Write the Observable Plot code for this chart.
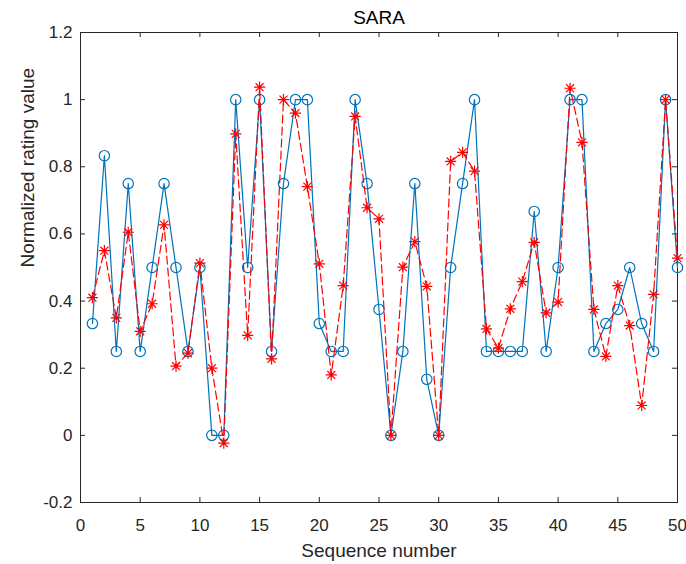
<!DOCTYPE html>
<html>
<head>
<meta charset="utf-8">
<script src="https://cdn.jsdelivr.net/npm/d3@7"></script>
<script src="https://cdn.jsdelivr.net/npm/@observablehq/plot@0.6"></script>
<style>
  html, body { margin: 0; padding: 0; background: #fff; }
  #chart svg { display: block; }
</style>
</head>
<body>
<div id="chart"></div>
<script>
// Sequence numbers 1..50
const sequence = [1,2,3,4,5,6,7,8,9,10,11,12,13,14,15,16,17,18,19,20,21,22,23,24,25,26,27,28,29,30,31,32,33,34,35,36,37,38,39,40,41,42,43,44,45,46,47,48,49,50];

// Blue series (circles, solid line)
const actual = [0.333,0.833,0.25,0.75,0.25,0.5,0.75,0.5,0.25,0.5,
                0,0,1,0.5,1,0.25,0.75,1,1,0.333,
                0.25,0.25,1,0.75,0.375,0,0.25,0.75,0.167,0,
                0.5,0.75,1,0.25,0.25,0.25,0.25,0.667,0.25,0.5,
                1,1,0.25,0.333,0.375,0.5,0.333,0.25,1,0.5];

// Red series (asterisks, dashed line)
const predicted = [0.41,0.55,0.35,0.605,0.31,0.392,0.627,0.206,0.245,0.513,
                   0.2,-0.023,0.898,0.298,1.037,0.228,1.0,0.96,0.741,0.511,
                   0.18,0.446,0.95,0.678,0.645,0,0.501,0.577,0.444,0,
                   0.816,0.843,0.787,0.317,0.26,0.377,0.458,0.575,0.365,0.397,
                   1.034,0.873,0.375,0.235,0.446,0.327,0.089,0.42,1.0,0.528];

const xTicks = [0,5,10,15,20,25,30,35,40,45,50];
const yTicks = [-0.2,0,0.2,0.4,0.6,0.8,1,1.2];

const titleText = "SARA";
const xLabel = "Sequence number";
const yLabel = "Normalized rating value";

const blueData = sequence.map((s, i) => ({x: s, y: actual[i]}));
const redData = sequence.map((s, i) => ({x: s, y: predicted[i]}));

const asterisk8 = {
  draw(ctx, size) {
    const r = Math.sqrt(size / Math.PI);
    const d = r * Math.SQRT1_2;
    ctx.moveTo(-r, 0); ctx.lineTo(r, 0);
    ctx.moveTo(0, -r); ctx.lineTo(0, r);
    ctx.moveTo(-d, -d); ctx.lineTo(d, d);
    ctx.moveTo(-d, d); ctx.lineTo(d, -d);
  }
};

const axisColor = "#262626";
const fmt = d => String(Math.round(d * 10) / 10);

const W = 686, H = 564, mL = 80, mR = 9, mT = 32, mB = 62;
const innerW = W - mL - mR, innerH = H - mT - mB;
const tickLen = 5;

const chart = Plot.plot({
  width: W,
  height: H,
  marginLeft: mL,
  marginRight: mR,
  marginTop: mT,
  marginBottom: mB,
  style: {fontFamily: "'Liberation Sans', Arial, Helvetica, sans-serif", fontSize: "17px", color: axisColor, background: "#fff"},
  x: {domain: [0, 50]},
  y: {domain: [-0.2, 1.2]},
  marks: [
    // inward ticks (bottom, top, left, right)
    Plot.tickX(xTicks, {x: d => d, stroke: axisColor, strokeWidth: 1, insetTop: innerH - tickLen}),
    Plot.tickX(xTicks, {x: d => d, stroke: axisColor, strokeWidth: 1, insetBottom: innerH - tickLen}),
    Plot.tickY(yTicks, {y: d => d, stroke: axisColor, strokeWidth: 1, insetRight: innerW - tickLen}),
    Plot.tickY(yTicks, {y: d => d, stroke: axisColor, strokeWidth: 1, insetLeft: innerW - tickLen}),
    Plot.frame({stroke: axisColor, strokeWidth: 1}),
    Plot.axisX({ticks: xTicks, tickSize: 0, tickPadding: 16, tickFormat: fmt, label: null, fontSize: 17, fill: axisColor}),
    Plot.axisY({ticks: yTicks, tickSize: 0, tickPadding: 8, tickFormat: fmt, label: null, fontSize: 17, fill: axisColor}),
    // blue series
    Plot.line(blueData, {x: "x", y: "y", stroke: "#0072BD", strokeWidth: 1.2}),
    Plot.dot(blueData, {x: "x", y: "y", symbol: "circle", r: 5.2, fill: "none", stroke: "#0072BD", strokeWidth: 1.2}),
    // red series
    Plot.line(redData, {x: "x", y: "y", stroke: "#FF0000", strokeWidth: 1.2, strokeDasharray: "8,4"}),
    Plot.dot(redData, {x: "x", y: "y", symbol: asterisk8, r: 5.6, fill: "none", stroke: "#FF0000", strokeWidth: 1.2}),
    // titles
    Plot.text([titleText], {text: d => d, frameAnchor: "top", lineAnchor: "bottom", dy: -9, fontSize: 19, fill: "#000"}),
    Plot.text([xLabel], {text: d => d, frameAnchor: "bottom", lineAnchor: "bottom", dy: 54, fontSize: 19, fill: axisColor}),
    Plot.text([yLabel], {text: d => d, frameAnchor: "left", lineAnchor: "bottom", rotate: -90, dx: -47, fontSize: 19, fill: axisColor})
  ]
});

document.getElementById("chart").appendChild(chart);
</script>
</body>
</html>
